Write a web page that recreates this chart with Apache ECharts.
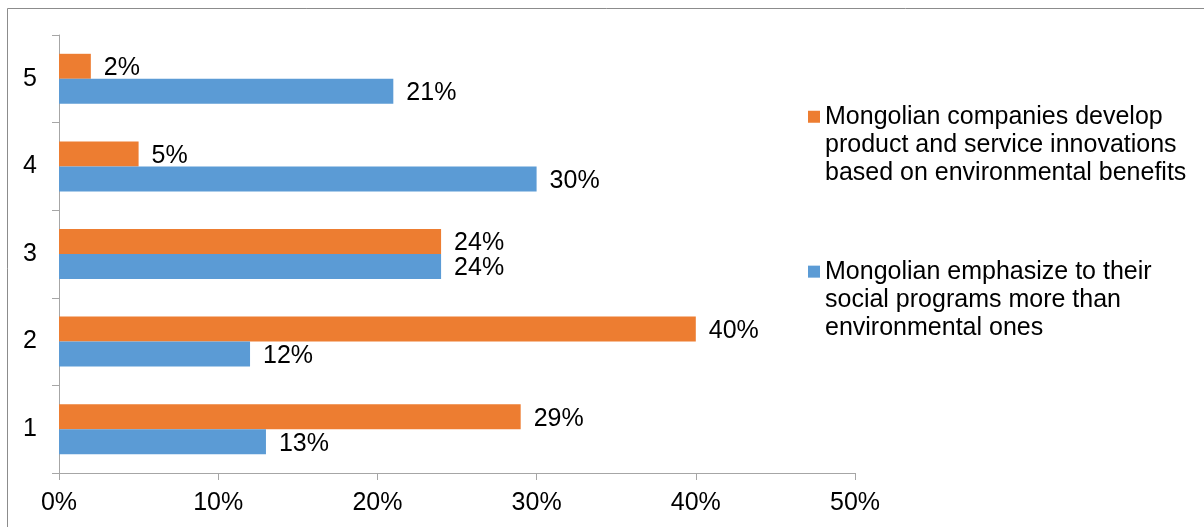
<!DOCTYPE html>
<html>
<head>
<meta charset="utf-8">
<script src="https://cdn.jsdelivr.net/npm/echarts@6/dist/echarts.min.js"></script>
<style>
  html, body { margin: 0; padding: 0; background: #fff; }
  #chart { width: 1204px; height: 527px; }
</style>
</head>
<body>
<div id="chart"></div>
<script>
const categories = ['1', '2', '3', '4', '5'];
const seriesNames = [
  'Mongolian companies develop product and service innovations based on environmental benefits',
  'Mongolian emphasize to their social programs more than environmental ones'
];
const legendLines = {
  'Mongolian companies develop product and service innovations based on environmental benefits':
    'Mongolian companies develop\nproduct and service innovations\nbased on environmental benefits',
  'Mongolian emphasize to their social programs more than environmental ones':
    'Mongolian emphasize to their\nsocial programs more than\nenvironmental ones'
};
const innovationValues = [29, 40, 24, 5, 2];
const socialValues = [13, 12, 24, 30, 21];
const xTicks = [0, 10, 20, 30, 40, 50];

const FONT = 'Liberation Sans, Arial, sans-serif';
const FS = 25;
const chart = echarts.init(document.getElementById('chart'));

const labelCfg = {
  show: true,
  position: 'right',
  distance: 13,
  offset: [0, 2],
  color: '#000',
  fontFamily: FONT,
  fontSize: FS,
  formatter: p => p.value + '%'
};

chart.setOption({
  animation: false,
  backgroundColor: '#fff',
  graphic: [{
    type: 'rect',
    shape: { x: 7.5, y: 8.5, width: 1220, height: 560 },
    style: { fill: 'none', stroke: '#8c8c8c', lineWidth: 1 },
    silent: true
  }],
  grid: { left: 59, right: 349, top: 35, bottom: 54, containLabel: false },
  legend: {
    orient: 'vertical',
    left: 808,
    top: 46,
    padding: 0,
    itemGap: 13.4,
    itemWidth: 12,
    itemHeight: 12,
    icon: 'rect',
    data: seriesNames,
    formatter: name => '\n\n' + legendLines[name],
    textStyle: {
      color: '#000',
      fontFamily: FONT,
      fontSize: FS,
      lineHeight: 28.3
    }
  },
  xAxis: {
    type: 'value',
    min: xTicks[0],
    max: xTicks[xTicks.length - 1],
    interval: 10,
    splitLine: { show: false },
    axisLine: { show: true, lineStyle: { color: '#a6a6a6', width: 1 } },
    axisTick: { show: true, length: 7, lineStyle: { color: '#a6a6a6' } },
    axisLabel: {
      color: '#000', fontFamily: FONT, fontSize: FS, margin: 18,
      formatter: v => v + '%'
    }
  },
  yAxis: {
    type: 'category',
    data: categories,
    axisLine: { show: true, lineStyle: { color: '#a6a6a6', width: 1 } },
    axisTick: { show: true, length: 7, alignWithLabel: false, lineStyle: { color: '#a6a6a6' } },
    axisLabel: { color: '#000', fontFamily: FONT, fontSize: FS, margin: 22 }
  },
  series: [
    {
      name: seriesNames[0],
      type: 'bar',
      data: innovationValues,
      barWidth: 25,
      barGap: '0%',
      itemStyle: { color: '#ED7D31' },
      label: labelCfg
    },
    {
      name: seriesNames[1],
      type: 'bar',
      data: socialValues,
      barWidth: 25,
      barGap: '0%',
      itemStyle: { color: '#5B9BD5' },
      label: labelCfg
    }
  ]
});
</script>
</body>
</html>
